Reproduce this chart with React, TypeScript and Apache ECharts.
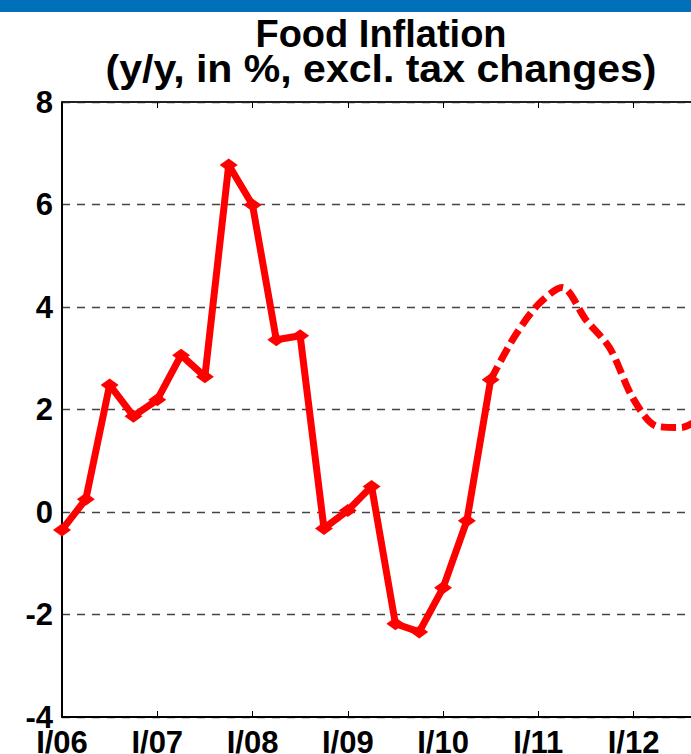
import React, { useEffect, useRef } from "react";
import * as echarts from "echarts";

const quarters = [
  "I/06", "II/06", "III/06", "IV/06",
  "I/07", "II/07", "III/07", "IV/07",
  "I/08", "II/08", "III/08", "IV/08",
  "I/09", "II/09", "III/09", "IV/09",
  "I/10", "II/10", "III/10", "IV/10",
  "I/11", "II/11", "III/11", "IV/11",
  "I/12", "II/12", "III/12", "IV/12",
];

// Actual observations I/06 .. III/10
const actualValues = [
  -0.35, 0.25, 2.48, 1.87, 2.19, 3.06, 2.64, 6.77, 5.99, 3.36,
  3.44, -0.32, 0.03, 0.5, -2.18, -2.34, -1.48, -0.17, 2.58,
];

// Forecast III/10 .. IV/12
const forecastStartIndex = 18;
const forecastValues = [2.58, 3.42, 4.05, 4.38, 3.75, 3.2, 2.2, 1.67, 1.65, 1.9];

const yTicks = { min: -4, max: 8, interval: 2 };

const titleLines = ["Food Inflation", "(y/y, in %, excl. tax changes)"];

export default function App() {
  const ref = useRef<HTMLDivElement>(null);

  useEffect(() => {
    if (!ref.current) return;
    const chart = echarts.init(ref.current, undefined, { renderer: "svg" });
    const forecastData: (number | null)[] = [];
    for (let i = 0; i < forecastStartIndex; i++) forecastData.push(null);
    forecastValues.forEach((v) => forecastData.push(v));

    const font = "Liberation Sans, Arial, Helvetica, sans-serif";

    chart.setOption({
      animation: false,
      backgroundColor: "#ffffff",
      graphic: [
        {
          type: "rect",
          shape: { x: 0, y: 0, width: 762, height: 12 },
          style: { fill: "#0071b9" },
          silent: true,
        },
        {
          type: "text",
          x: 381,
          y: 15,
          style: {
            text: titleLines[0],
            fontFamily: font,
            fontWeight: "bold",
            fontSize: 38,
            fill: "#000000",
            align: "center",
            verticalAlign: "top",
          },
          silent: true,
        },
        {
          type: "text",
          x: 381,
          y: 50,
          scaleX: 1.08,
          originX: 0,
          style: {
            text: titleLines[1],
            fontFamily: font,
            fontWeight: "bold",
            fontSize: 38,
            fill: "#000000",
            align: "center",
            verticalAlign: "top",
          },
          silent: true,
        },
      ],
      grid: {
        left: 62,
        right: 57,
        top: 102,
        bottom: 37,
        containLabel: false,
        outerBoundsMode: "none",
      },
      xAxis: [
        {
          type: "category",
          data: quarters,
          boundaryGap: false,
          position: "bottom",
          axisLine: { show: true, onZero: false, lineStyle: { color: "#000000", width: 2 } },
          axisTick: {
            show: true,
            inside: true,
            length: 6,
            interval: 3,
            lineStyle: { color: "#000000", width: 1 },
          },
          axisLabel: {
            interval: 3,
            margin: 10,
            fontFamily: font,
            fontWeight: "bold",
            fontSize: 31,
            color: "#000000",
          },
          splitLine: { show: false },
        },
        {
          type: "category",
          data: quarters,
          boundaryGap: false,
          position: "top",
          axisLine: { show: true, onZero: false, lineStyle: { color: "#222222", width: 2 } },
          axisTick: {
            show: true,
            inside: true,
            length: 6,
            interval: 3,
            lineStyle: { color: "#000000", width: 1 },
          },
          axisLabel: { show: false },
          splitLine: { show: false },
        },
      ],
      yAxis: {
        type: "value",
        min: yTicks.min,
        max: yTicks.max,
        interval: yTicks.interval,
        axisLine: { show: true, onZero: false, lineStyle: { color: "#000000", width: 2 } },
        axisTick: { show: false },
        axisLabel: {
          margin: 9,
          fontFamily: font,
          fontWeight: "bold",
          fontSize: 31,
          color: "#000000",
        },
        splitLine: {
          show: true,
          lineStyle: { color: "#444444", width: 1.3, type: [8, 7] },
        },
      },
      series: [
        {
          name: "Forecast",
          type: "line",
          xAxisIndex: 0,
          data: forecastData,
          smooth: 0.3,
          symbol: "none",
          connectNulls: false,
          lineStyle: { color: "#ff0000", width: 7, type: [15, 6] },
          z: 2,
        },
        {
          name: "Actual",
          type: "line",
          xAxisIndex: 0,
          data: actualValues,
          symbol: "diamond",
          symbolSize: [18, 13],
          itemStyle: { color: "#ff0000" },
          lineStyle: { color: "#ff0000", width: 7 },
          z: 3,
        },
      ],
    });
    return () => chart.dispose();
  }, []);

  return (
    <div
      style={{
        position: "fixed",
        left: 0,
        top: 0,
        width: 691,
        height: 754,
        overflow: "hidden",
        background: "#ffffff",
      }}
    >
      <div ref={ref} style={{ width: 762, height: 754 }} />
    </div>
  );
}
